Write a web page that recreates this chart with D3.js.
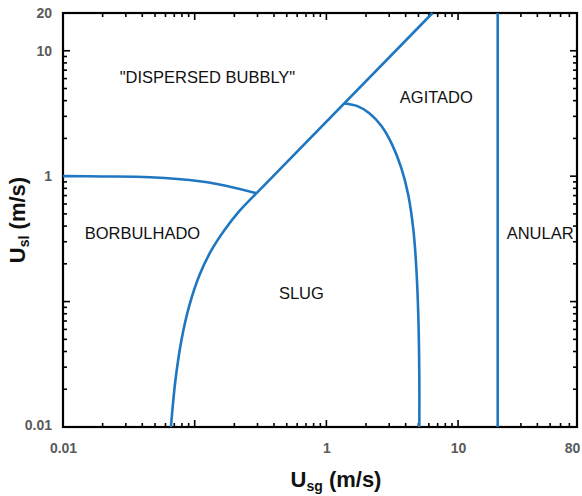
<!DOCTYPE html>
<html>
<head>
<meta charset="utf-8">
<script src="https://cdn.jsdelivr.net/npm/d3@7"></script>
<style>
  body { margin: 0; background: #fff; }
  svg { display: block; font-family: "Liberation Sans", Arial, sans-serif; }
  .region { font-size: 16.5px; fill: #111; }
  .tickLabel { font-size: 14px; font-weight: bold; fill: #5a5a5a; }
  .axisTitle { font-size: 22px; font-weight: bold; fill: #111; }
</style>
</head>
<body>
<svg id="canvas" width="582" height="496"></svg>
<script>
// axis ranges and labelled ticks
const xDomain = [0.01, 80]
const yDomain = [0.01, 20]
const xTickLabels = [0.01, 1, 10, 80]
const yTickLabels = [0.01, 1, 10, 20]

// boundaries between flow patterns (Usg, Usl) in m/s
const bubblyBoundary = [[0.01, 1], [0.02, 0.995], [0.046, 0.98], [0.109, 0.91], [0.2, 0.81], [0.294, 0.73]]
const slugBoundary = [[0.066, 0.01], [0.0677, 0.0136], [0.0714, 0.0236], [0.0793, 0.0492], [0.0912, 0.0936], [0.1086, 0.1624], [0.134, 0.257], [0.168, 0.371], [0.218, 0.526], [0.294, 0.73]]
const dispersedBoundary = [[0.294, 0.73], [6.4, 20]]
const agitadoBoundary = [[1.37, 3.8], [1.72, 3.62], [2.12, 3.18], [2.62, 2.51], [3.17, 1.77], [3.71, 1.16], [4.19, 0.706], [4.58, 0.371], [4.83, 0.178], [5.0, 0.0711], [5.08, 0.0236], [5.08, 0.01]]
const anularBoundary = [[20, 0.01], [20, 20]]

// region names and where they sit (Usg, Usl)
const regionNames = ['"DISPERSED BUBBLY"', "AGITADO", "BORBULHADO", "SLUG", "ANULAR"]
const regionSpots = [[0.125, 6.15], [6.84, 4.27], [0.0401, 0.351], [0.646, 0.1167], [42, 0.351]]

const margin = {top: 13, right: 5, bottom: 69, left: 63}
const width = 582, height = 496

const canvas = d3.select("#canvas")

const x = d3.scaleLog().domain(xDomain).range([margin.left, width - margin.right])
const y = d3.scaleLog().domain(yDomain).range([height - margin.bottom, margin.top])

// every 1..9 x 10^k inside a domain
const logTicks = (domain) => {
  let out = []
  for (let k = -2; k <= 2; k++) {
    for (let m = 1; m <= 9; m++) {
      const v = +(m * Math.pow(10, k)).toPrecision(3)
      if (v >= domain[0] && v <= domain[1]) out.push(v)
    }
  }
  return out
}
const isDecade = (v) => Math.abs(Math.log10(v) - Math.round(Math.log10(v))) < 1e-6
const tickLen = (v) => isDecade(v) ? 7 : 4

const bottomY = height - margin.bottom
const rightX = width - margin.right

// ticks on all four sides, pointing inwards
const ticks = canvas.append("g").attr("stroke", "#000").attr("stroke-width", 1.6)
const xt0 = logTicks(xDomain), yt0 = logTicks(yDomain)
ticks.selectAll(".xb").data(xt0).enter().append("line")
     .attr("x1", d => x(d)).attr("x2", d => x(d))
     .attr("y1", bottomY).attr("y2", d => bottomY - tickLen(d))
ticks.selectAll(".xt").data(xt0).enter().append("line")
     .attr("x1", d => x(d)).attr("x2", d => x(d))
     .attr("y1", margin.top).attr("y2", d => margin.top + tickLen(d))
ticks.selectAll(".yl").data(yt0).enter().append("line")
     .attr("y1", d => y(d)).attr("y2", d => y(d))
     .attr("x1", margin.left).attr("x2", d => margin.left + tickLen(d))
ticks.selectAll(".yr").data(yt0).enter().append("line")
     .attr("y1", d => y(d)).attr("y2", d => y(d))
     .attr("x1", rightX).attr("x2", d => rightX - tickLen(d))

// tick labels
canvas.append("g")
      .attr("transform", `translate(0,${bottomY})`)
      .call(d3.axisBottom(x).tickValues(xTickLabels).tickSize(0).tickPadding(16).tickFormat(d3.format("~g")))
      .call(g => g.select(".domain").remove())
      .selectAll("text").attr("class", "tickLabel")
      .attr("dx", d => d === 80 ? -5 : 0)

canvas.append("g")
      .attr("transform", `translate(${margin.left},0)`)
      .call(d3.axisLeft(y).tickValues(yTickLabels).tickSize(0).tickPadding(11).tickFormat(d3.format("~g")))
      .call(g => g.select(".domain").remove())
      .selectAll("text").attr("class", "tickLabel")
      .attr("dy", d => d === 0.01 ? "0.2em" : "0.32em")

// frame
canvas.append("rect")
      .attr("x", margin.left).attr("y", margin.top)
      .attr("width", rightX - margin.left).attr("height", bottomY - margin.top)
      .attr("fill", "none").attr("stroke", "#000").attr("stroke-width", 2.2)

// boundary curves
const line = d3.line().x(d => x(d[0])).y(d => y(d[1])).curve(d3.curveCatmullRom.alpha(0.5))
const plot = canvas.append("g")
;[bubblyBoundary, slugBoundary, dispersedBoundary, agitadoBoundary, anularBoundary].forEach(b => {
  plot.append("path")
      .attr("d", line(b))
      .attr("fill", "none")
      .attr("stroke", "#1f77c2")
      .attr("stroke-width", 2.6)
})

// region names
canvas.append("g").selectAll("text")
      .data(regionNames)
      .enter()
      .append("text")
      .attr("class", "region")
      .attr("x", (d, i) => x(regionSpots[i][0]))
      .attr("y", (d, i) => y(regionSpots[i][1]))
      .attr("text-anchor", "middle")
      .attr("dy", "0.35em")
      .text(d => d)

// axis titles
const xt = canvas.append("text").attr("class", "axisTitle")
                 .attr("x", 336).attr("y", 487).attr("text-anchor", "middle")
xt.append("tspan").text("U")
xt.append("tspan").attr("font-size", "14px").attr("dy", "4").text("sg")
xt.append("tspan").attr("dy", "-4").text(" (m/s)")

const yt = canvas.append("text").attr("class", "axisTitle")
                 .attr("transform", "translate(25,220) rotate(-90)").attr("text-anchor", "middle")
yt.append("tspan").text("U")
yt.append("tspan").attr("font-size", "14px").attr("dy", "4").text("sl")
yt.append("tspan").attr("dy", "-4").text(" (m/s)")
</script>
</body>
</html>
